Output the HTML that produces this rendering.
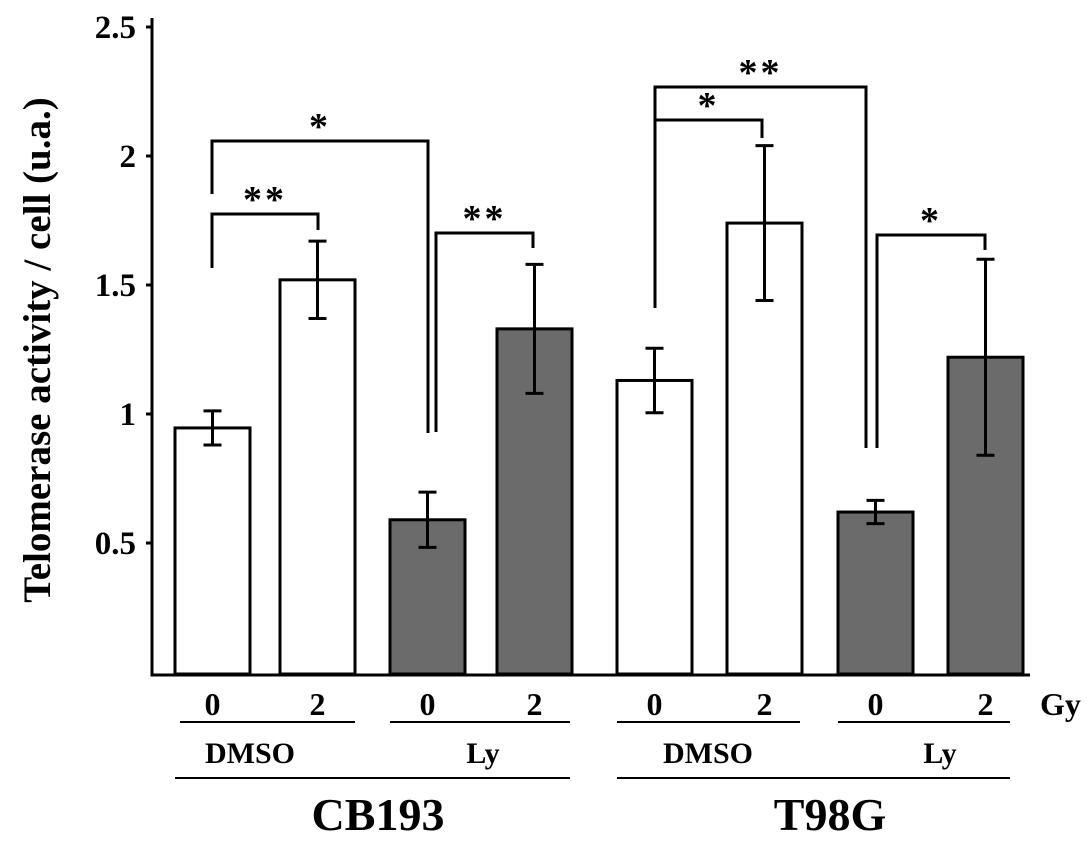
<!DOCTYPE html>
<html><head><meta charset="utf-8"><style>
body{margin:0;background:#fff}
svg text{font-family:"Liberation Serif",serif;font-weight:bold;fill:#000}
</style></head><body>
<svg width="1087" height="843" viewBox="0 0 1087 843">
<g id="bars"></g>
<g id="axes"></g>
<g id="brackets"></g>
<text x="0" y="0" transform="translate(50,350) rotate(-90)" text-anchor="middle" font-size="39">Telomerase activity / cell (u.a.)</text>
</svg>
<script>
const categories=["CB193 DMSO 0","CB193 DMSO 2","CB193 Ly 0","CB193 Ly 2","T98G DMSO 0","T98G DMSO 2","T98G Ly 0","T98G Ly 2"];
const values=[0.946,1.52,0.59,1.33,1.13,1.74,0.62,1.22];
const errors=[0.066,0.15,0.107,0.25,0.125,0.30,0.045,0.38];
const doseLabels=["0","2","0","2","0","2","0","2"];
const yTicks=[0.5,1,1.5,2,2.5];
const yTickLabels=["0.5","1","1.5","2","2.5"];
const NS="http://www.w3.org/2000/svg";
const y0=672,pxPerUnit=258;
function yS(v){return y0-v*pxPerUnit;}
const barLeft=[175,280,390,497,617,727,838,948];
function xS(i){return barLeft[i];}
const bw=75;
function mk(tag,attrs,parent,name){const e=document.createElementNS(NS,tag);for(const k in attrs)e.setAttribute(k,attrs[k]);


parent.appendChild(e);return e;}
const bars=document.getElementById('bars'),axes=document.getElementById('axes'),br=document.getElementById('brackets');
values.forEach((v,i)=>{
 const fill=(i%4<2)?'#fff':'#6b6b6b';
 mk('rect',{x:xS(i),y:yS(v),width:bw,height:y0-yS(v)+2,fill:fill,stroke:'#000','stroke-width':3},bars,'bar-'+(i+1));
 const cx=xS(i)+bw/2,t=yS(v+errors[i]),b=yS(v-errors[i]);
 mk('path',{d:`M${cx},${t}V${b}M${cx-9},${t}H${cx+9}M${cx-9},${b}H${cx+9}`,stroke:'#000','stroke-width':3,fill:'none'},bars,'error-bar-'+(i+1));
 const tx=mk('text',{x:cx,y:715,'text-anchor':'middle','font-size':32},axes,'dose-label');tx.textContent=doseLabels[i];
});
mk('path',{d:`M152,18V675H1030`,stroke:'#000','stroke-width':3,fill:'none'},axes,'axis-lines');
yTicks.forEach((t,i)=>{
 mk('path',{d:`M146,${yS(t)}H152`,stroke:'#000','stroke-width':3},axes,'y-tick');
 const tx=mk('text',{x:136,y:yS(t)+11,'text-anchor':'end','font-size':33},axes,'y-tick-label');tx.textContent=yTickLabels[i];
});
const gy=mk('text',{x:1040,y:715,'font-size':32},axes,'unit-label');gy.textContent="Gy";
[[180,355,'DMSO',250],[390,570,'Ly',483],[617,800,'DMSO',708],[838,1010,'Ly',940]].forEach(g=>{
 mk('path',{d:`M${g[0]},722H${g[1]}`,stroke:'#000','stroke-width':2},axes,'treatment-line');
 const tx=mk('text',{x:g[3],y:763,'text-anchor':'middle','font-size':30},axes,'treatment-label');tx.textContent=g[2];
});
[[175,570,'CB193',378],[617,1010,'T98G',830]].forEach(g=>{
 mk('path',{d:`M${g[0]},778H${g[1]}`,stroke:'#000','stroke-width':2},axes,'cell-line-line');
 const tx=mk('text',{x:g[3],y:830,'text-anchor':'middle','font-size':46},axes,'cell-line-label');tx.textContent=g[2];
});
const bk=[
 [212,268,214,318,230,'**'],
 [212,194,141,428,433,'*'],
 [436,432,233,533,248,'**'],
 [655,308,87,866,448,'**'],
 [655,170,120,762,138,'*'],
 [877,448,235,985,250,'*']];
bk.forEach(b=>{
 mk('path',{d:`M${b[0]},${b[1]}V${b[2]}H${b[3]}V${b[4]}`,stroke:'#000','stroke-width':3,fill:'none'},br,'bracket');
 const tx=mk('text',{x:(b[0]+b[3])/2,y:b[2]-2,'text-anchor':'middle','font-size':38,'font-weight':'normal','letter-spacing':'3'},br,'significance-star');tx.textContent=b[5];
});
</script>
</body></html>
